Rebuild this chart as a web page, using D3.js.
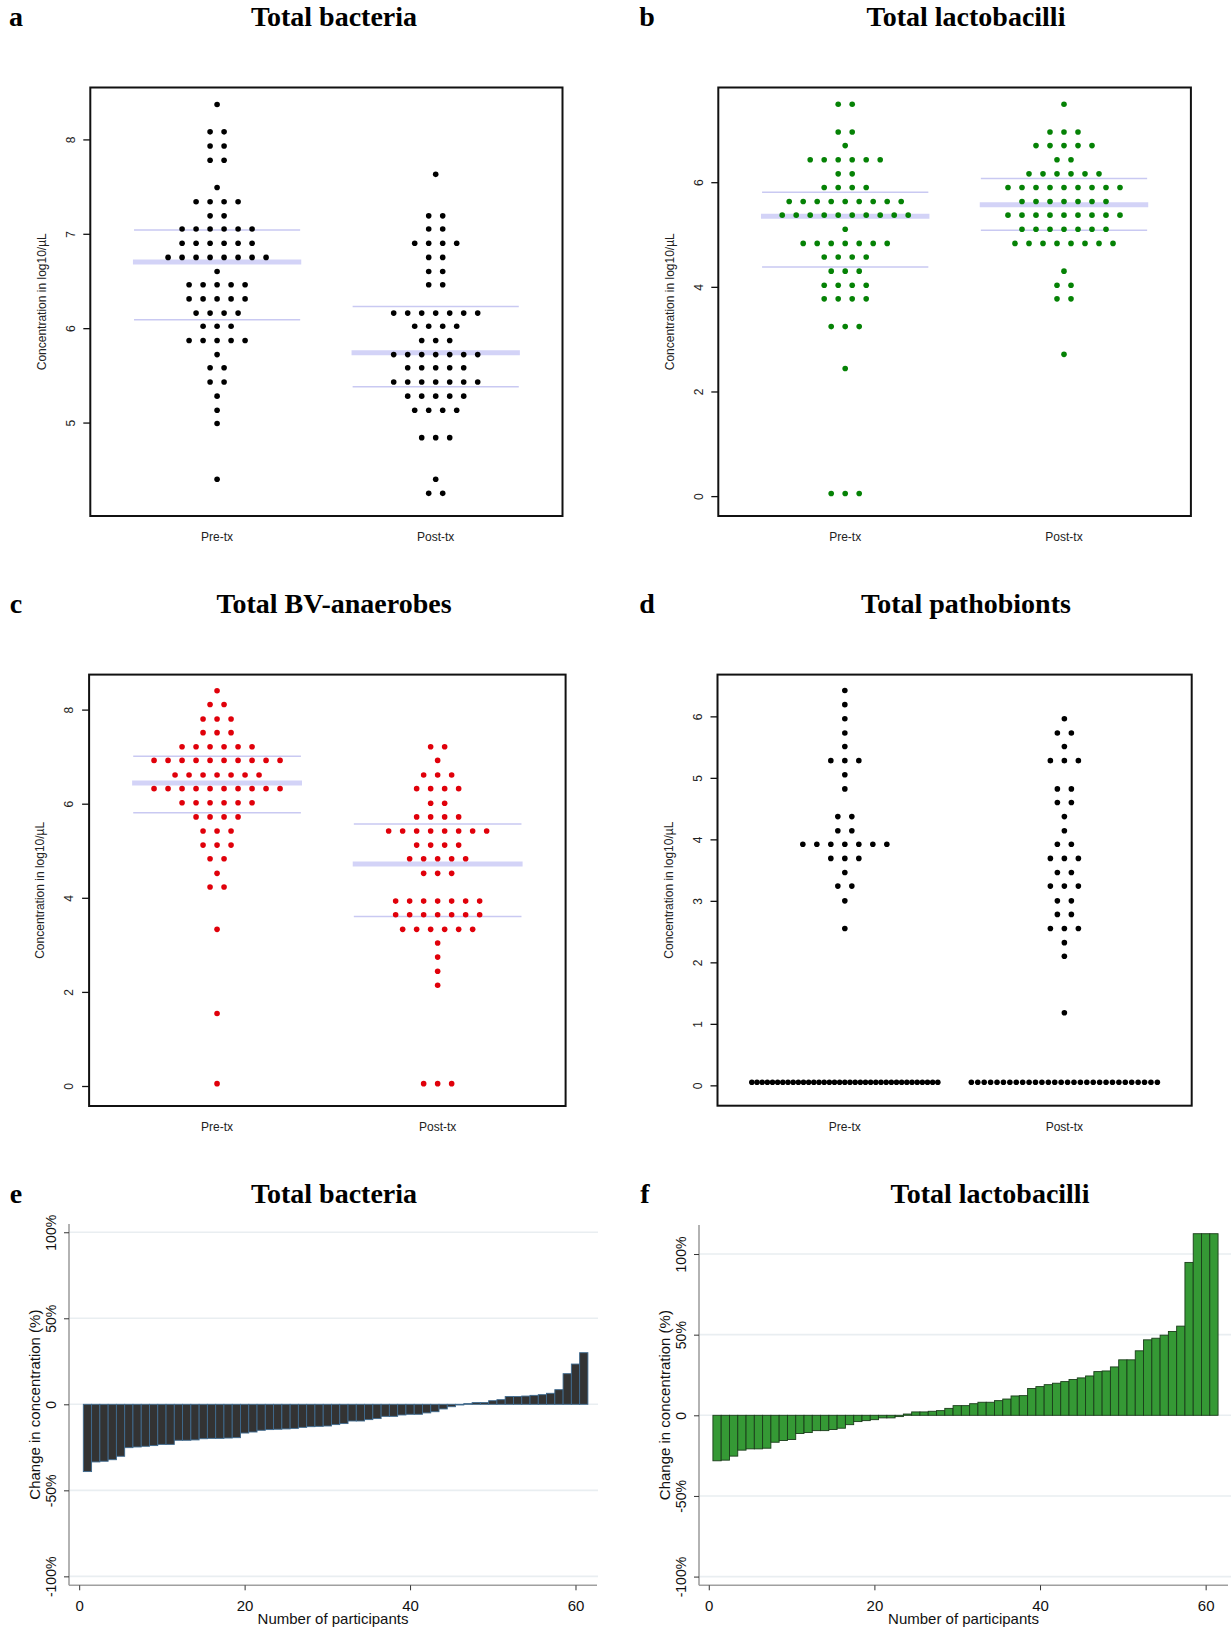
<!DOCTYPE html>
<html>
<head>
<meta charset="utf-8">
<script src="https://cdn.jsdelivr.net/npm/d3@7"></script>
<style>
  body { margin: 0; background: #fff; }
  svg text { font-family: "Liberation Sans", Arial, sans-serif; }
  .ttl { font-family: "Liberation Serif", "Times New Roman", serif; font-weight: bold; font-size: 28px; }
</style>
</head>
<body>
<svg id="fig" width="1231" height="1631"></svg>
<script>
// ---- data ----
const groups = ["Pre-tx", "Post-tx"];

// a: total bacteria, log10/µL — swarm rows and dots per row
const bactPreLevels  = [8.37, 8.08, 7.93, 7.78, 7.49, 7.34, 7.19, 7.05, 6.90, 6.75, 6.60, 6.46, 6.31, 6.16, 6.02, 5.87, 5.72, 5.58, 5.43, 5.28, 5.13, 4.99, 4.40];
const bactPreCounts  = [1, 2, 2, 2, 1, 4, 2, 6, 6, 8, 1, 5, 5, 4, 3, 5, 1, 2, 2, 1, 1, 1, 1];
const bactPostLevels = [7.63, 7.19, 7.05, 6.90, 6.75, 6.60, 6.46, 6.16, 6.02, 5.87, 5.72, 5.58, 5.43, 5.28, 5.13, 4.84, 4.40, 4.25];
const bactPostCounts = [1, 2, 2, 4, 2, 2, 2, 7, 4, 3, 7, 5, 7, 5, 4, 3, 1, 2];
const bactMedian = [6.70, 5.74];
const bactQ1 = [6.09, 5.38];
const bactQ3 = [7.04, 6.23];

// b: total lactobacilli
const lactoPreLevels  = [7.49, 6.96, 6.70, 6.43, 6.16, 5.90, 5.63, 5.37, 5.10, 4.83, 4.57, 4.30, 4.03, 3.77, 3.24, 2.44, 0.05];
const lactoPreCounts  = [2, 2, 1, 6, 2, 4, 9, 10, 1, 7, 4, 3, 4, 4, 3, 1, 3];
const lactoPostLevels = [7.49, 6.96, 6.70, 6.43, 6.16, 5.90, 5.63, 5.37, 5.10, 4.83, 4.30, 4.03, 3.77, 2.71];
const lactoPostCounts = [1, 3, 5, 2, 6, 9, 7, 9, 7, 8, 1, 2, 2, 1];
const lactoMedian = [5.35, 5.57];
const lactoQ1 = [4.38, 5.08];
const lactoQ3 = [5.81, 6.07];

// c: total BV-anaerobes
const bvPreLevels  = [8.40, 8.11, 7.80, 7.51, 7.21, 6.92, 6.61, 6.32, 6.02, 5.72, 5.42, 5.12, 4.83, 4.52, 4.23, 3.33, 1.54, 0.05];
const bvPreCounts  = [1, 2, 3, 3, 6, 10, 7, 10, 6, 4, 3, 3, 2, 1, 2, 1, 1, 1];
const bvPostLevels = [7.21, 6.92, 6.61, 6.32, 6.01, 5.72, 5.42, 5.12, 4.83, 4.52, 3.93, 3.64, 3.33, 3.04, 2.74, 2.44, 2.14, 0.05];
const bvPostCounts = [2, 1, 3, 4, 2, 4, 8, 4, 5, 3, 7, 7, 6, 1, 1, 1, 1, 3];
const bvMedian = [6.44, 4.72];
const bvQ1 = [5.81, 3.60];
const bvQ3 = [7.01, 5.57];

// d: total pathobionts (no median lines drawn)
const pathoPreLevels  = [6.42, 6.19, 5.96, 5.73, 5.51, 5.28, 5.05, 4.82, 4.37, 4.14, 3.92, 3.69, 3.46, 3.24, 3.00, 2.55, 0.05];
const pathoPreCounts  = [1, 1, 1, 1, 1, 3, 1, 1, 2, 2, 7, 3, 1, 2, 1, 1, 37];
const pathoPostLevels = [5.96, 5.73, 5.51, 5.28, 4.82, 4.60, 4.37, 4.14, 3.92, 3.69, 3.46, 3.24, 3.00, 2.78, 2.55, 2.32, 2.10, 1.18, 0.05];
const pathoPostCounts = [1, 2, 1, 3, 2, 2, 1, 1, 2, 3, 2, 3, 2, 2, 3, 1, 1, 1, 30];

// e, f: change in concentration (%) per participant, sorted
const bactChange = [-39.1, -33.5, -33.1, -32.2, -30.2, -25.2, -24.8, -24.4, -24.0, -23.3,
  -23.3, -20.9, -20.9, -20.7, -20.0, -19.8, -19.8, -19.6, -19.4, -16.7,
  -16.1, -15.1, -14.7, -14.5, -14.3, -14.0, -13.4, -13.0, -12.8, -12.6,
  -11.8, -11.2, -9.7, -9.7, -8.9, -8.3, -7.0, -7.0, -6.2, -5.8,
  -5.8, -5.0, -4.3, -2.7, -1.4, -0.4, 0.4, 1.0, 1.0, 2.1,
  2.7, 4.5, 4.5, 4.8, 5.2, 5.6, 6.4, 8.5, 17.8, 23.4, 30.0];
const lactoChange = [-28.2, -27.8, -25.3, -21.6, -20.8, -20.8, -20.4, -16.7, -15.6, -15.0,
  -11.3, -10.7, -9.5, -9.5, -8.8, -8.0, -5.8, -3.9, -3.3, -2.7,
  -1.6, -1.6, -0.8, 0.8, 2.1, 2.1, 2.5, 2.9, 4.3, 6.0,
  6.0, 7.2, 8.1, 8.1, 9.1, 10.1, 12.0, 12.2, 16.6, 17.8,
  19.0, 19.9, 20.9, 22.2, 23.2, 24.4, 27.1, 27.5, 30.0, 34.4,
  34.4, 40.0, 46.8, 47.8, 49.7, 52.0, 55.3, 94.8, 112.6, 112.6, 112.6];

const swarmTicksA = [5, 6, 7, 8];
const swarmTicksB = [0, 2, 4, 6];
const swarmTicksC = [0, 2, 4, 6, 8];
const swarmTicksD = [0, 1, 2, 3, 4, 5, 6];
const changeTicks = [-100, -50, 0, 50, 100];
const participantTicks = [0, 20, 40, 60];

// ---- drawing ----
const fig = d3.select("#fig");

function heading(letter, lx, title, tx, by) {
  fig.append("text").attr("class", "ttl").attr("x", lx).attr("y", by)
    .attr("text-anchor", "middle").text(letter);
  fig.append("text").attr("class", "ttl").attr("x", tx).attr("y", by)
    .attr("text-anchor", "middle").text(title);
}

function swarmPanel(p) {
  const x = d3.scaleLinear().domain([0.42, 2.58]).range([p.x0, p.x1]);
  const y = d3.scaleLinear().domain(p.domain).range([p.y1, p.y0]);
  const g = fig.append("g");

  // median + quartile lines
  if (p.med) {
    [0, 1].forEach(i => {
      const gx = i + 1;
      [p.q1[i], p.q3[i]].forEach(q => {
        g.append("line").attr("x1", x(gx - 0.38)).attr("x2", x(gx + 0.38))
          .attr("y1", y(q)).attr("y2", y(q))
          .attr("stroke", "#c9c9f2").attr("stroke-width", 1.5);
      });
      g.append("line").attr("x1", x(gx - 0.385)).attr("x2", x(gx + 0.385))
        .attr("y1", y(p.med[i])).attr("y2", y(p.med[i]))
        .attr("stroke", "#d3d3f7").attr("stroke-width", 5);
    });
  }

  // dots, each row centred on its group
  [p.pre, p.post].forEach((grp, i) => {
    const dots = [];
    grp[0].forEach((v, r) => {
      const n = grp[1][r];
      const s = n > 1 ? Math.min(14, 186 / (n - 1)) : 0;
      for (let k = 0; k < n; k++) dots.push({ v, off: (k - (n - 1) / 2) * s });
    });
    g.selectAll(null).data(dots).join("circle")
      .attr("cx", d => x(i + 1) + d.off)
      .attr("cy", d => y(d.v))
      .attr("r", 2.8)
      .attr("fill", p.color);
  });

  // y axis
  const ax = g.append("g").attr("transform", `translate(${p.x0},0)`)
    .call(d3.axisLeft(y).tickValues(p.ticks).tickSize(7).tickFormat(d3.format("d")));
  ax.select(".domain").remove();
  ax.selectAll("line").attr("stroke", "#111").attr("stroke-width", 1.3);
  ax.selectAll("text")
    .attr("x", null).attr("dy", "0.35em")
    .attr("transform", "translate(-20,0) rotate(-90)")
    .attr("text-anchor", "middle")
    .attr("font-size", 12).attr("fill", "#222");

  // group labels
  groups.forEach((name, i) => {
    g.append("text").attr("x", x(i + 1)).attr("y", p.y1 + 21).attr("dy", "0.35em")
      .attr("text-anchor", "middle").attr("font-size", 12).attr("fill", "#222").text(name);
  });

  g.append("text")
    .attr("transform", `translate(${p.x0 - 49},${(p.y0 + p.y1) / 2}) rotate(-90)`)
    .attr("dy", "0.35em").attr("text-anchor", "middle")
    .attr("font-size", 12).attr("fill", "#222")
    .text("Concentration in log10/µL");

  g.append("rect").attr("x", p.x0).attr("y", p.y0)
    .attr("width", p.x1 - p.x0).attr("height", p.y1 - p.y0)
    .attr("fill", "none").attr("stroke", "#111").attr("stroke-width", 2);
}

function changePanel(p) {
  const x = d3.scaleLinear().domain(p.xDomain).range([p.x0, p.x1]);
  const y = d3.scaleLinear().domain(p.yDomain).range([p.y1, p.y0]);
  const g = fig.append("g");

  g.selectAll(null).data(changeTicks).join("line")
    .attr("x1", p.x0).attr("x2", p.gridEnd)
    .attr("y1", d => y(d)).attr("y2", d => y(d))
    .attr("stroke", "#e9eef1").attr("stroke-width", 1.6);

  g.selectAll(null).data(p.values).join("rect")
    .attr("x", (d, i) => x(i + 0.5))
    .attr("width", (d, i) => x(i + 1.5) - x(i + 0.5))
    .attr("y", d => Math.min(y(d), y(0)))
    .attr("height", d => Math.abs(y(d) - y(0)))
    .attr("fill", p.fill).attr("stroke", p.stroke).attr("stroke-width", 0.9);

  const ay = g.append("g").attr("transform", `translate(${p.x0},0)`)
    .call(d3.axisLeft(y).tickValues(changeTicks).tickSize(5)
      .tickFormat(d => d === 0 ? "0" : d + "%"));
  ay.select(".domain").attr("stroke", "#a0a0a0").attr("stroke-width", 1.6)
    .attr("d", `M0,${p.y0}V${p.y1}`);
  ay.selectAll("line").attr("stroke", "#333");
  ay.selectAll("text")
    .attr("x", null).attr("dy", "0.35em")
    .attr("transform", "translate(-18,0) rotate(-90)")
    .attr("text-anchor", "middle").attr("font-size", 14).attr("fill", "#111");

  const axx = g.append("g").attr("transform", `translate(0,${p.y1})`)
    .call(d3.axisBottom(x).tickValues(participantTicks).tickSize(5));
  axx.select(".domain").attr("stroke", "#a0a0a0").attr("stroke-width", 1.6)
    .attr("d", `M${p.x0},0H${p.x1}`);
  axx.selectAll("line").attr("stroke", "#333");
  axx.selectAll("text").attr("y", 20).attr("dy", "0.35em")
    .attr("font-size", 15).attr("fill", "#111");

  g.append("text").attr("x", (p.x0 + p.x1) / 2 + p.xTitleShift).attr("y", p.y1 + 33).attr("dy", "0.35em")
    .attr("text-anchor", "middle").attr("font-size", 15).attr("fill", "#111")
    .text("Number of participants");

  g.append("text")
    .attr("transform", `translate(${p.x0 - 34},${(p.y0 + p.y1) / 2}) rotate(-90)`)
    .attr("dy", "0.35em").attr("text-anchor", "middle")
    .attr("font-size", 15).attr("fill", "#111")
    .text("Change in concentration (%)");
}

heading("a", 16, "Total bacteria", 334, 26);
heading("b", 647, "Total lactobacilli", 966, 26);
heading("c", 16, "Total BV-anaerobes", 334, 613);
heading("d", 647, "Total pathobionts", 966, 613);
heading("e", 16, "Total bacteria", 334, 1203);
heading("f", 645, "Total lactobacilli", 990, 1203);

swarmPanel({ x0: 90.3, x1: 562.5, y0: 87.5, y1: 516, domain: [4.01, 8.55], ticks: swarmTicksA,
  color: "#000", pre: [bactPreLevels, bactPreCounts], post: [bactPostLevels, bactPostCounts],
  med: bactMedian, q1: bactQ1, q3: bactQ3 });
swarmPanel({ x0: 718.3, x1: 1190.9, y0: 87.5, y1: 516, domain: [-0.38, 7.81], ticks: swarmTicksB,
  color: "#058205", pre: [lactoPreLevels, lactoPreCounts], post: [lactoPostLevels, lactoPostCounts],
  med: lactoMedian, q1: lactoQ1, q3: lactoQ3 });
swarmPanel({ x0: 89.1, x1: 565.6, y0: 674.6, y1: 1106, domain: [-0.425, 8.744], ticks: swarmTicksC,
  color: "#e0000a", pre: [bvPreLevels, bvPreCounts], post: [bvPostLevels, bvPostCounts],
  med: bvMedian, q1: bvQ1, q3: bvQ3 });
swarmPanel({ x0: 717.5, x1: 1191.7, y0: 674.6, y1: 1105.7, domain: [-0.331, 6.679], ticks: swarmTicksD,
  color: "#000", pre: [pathoPreLevels, pathoPreCounts], post: [pathoPostLevels, pathoPostCounts] });

changePanel({ x0: 69, x1: 597, y0: 1224, y1: 1585.3, xDomain: [-1.23, 62.6], yDomain: [-105.2, 104.8],
  gridEnd: 598, values: bactChange, fill: "#333333", stroke: "#3f6a8e", xTitleShift: 0 });
changePanel({ x0: 699, x1: 1228, y0: 1225, y1: 1585.3, xDomain: [-1.18, 62.7], yDomain: [-105.4, 118],
  gridEnd: 1231, values: lactoChange, fill: "#359935", stroke: "#1a3d1a", xTitleShift: 0 });
</script>
</body>
</html>
